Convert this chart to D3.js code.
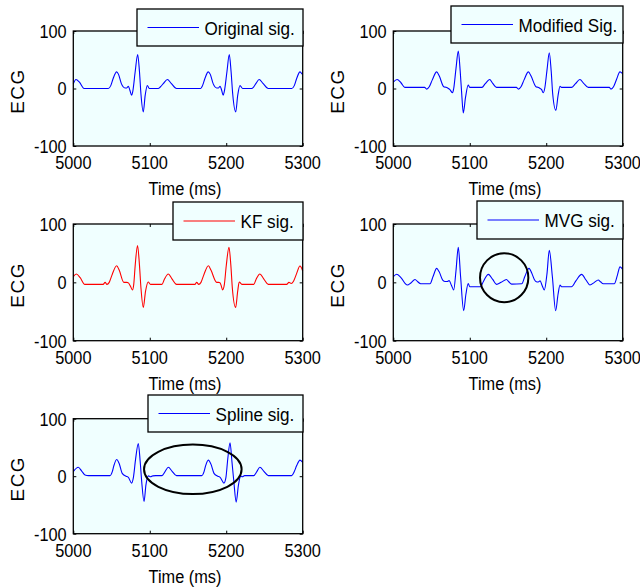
<!DOCTYPE html>
<html><head><meta charset="utf-8">
<script src="https://cdn.jsdelivr.net/npm/d3@7"></script>
<style>
body{margin:0;background:#fff}
text{font-family:"Liberation Sans",Arial,Helvetica,sans-serif;fill:#000}
</style>
</head><body>
<svg id="c" width="640" height="588"></svg>
<script>
// ---------- data ----------
const xTicks = [5000, 5100, 5200, 5300];
const yTicks = [-100, 0, 100];
const xLabel = "Time (ms)";
const yLabel = "ECG";
const seriesNames = ["Original sig.", "Modified Sig.", "KF sig.", "MVG sig.", "Spline sig."];
const seriesColors = ["#0000ff", "#0000ff", "#ff0000", "#0000ff", "#0000ff"];

const originalSig = [[5000,8],[5003.5,15.6],[5008,11],[5014,0],[5045.8,0],[5049,5],[5052,17],[5056.7,29],[5059,25],[5063,8],[5067.6,1],[5070,1],[5072,4],[5074,-3],[5076.3,-11.7],[5077.8,-5],[5081,30],[5084.2,59],[5086.5,30],[5088.5,-10],[5091.5,-40.7],[5094,-12],[5096.8,5],[5099.4,0],[5111,0],[5114,3],[5118,9],[5123,15.6],[5128,9],[5135,0],[5166.6,0],[5169,5],[5172,17],[5176.5,29],[5179,25],[5183,8],[5187.5,1],[5190,1],[5192,4],[5194,-3],[5196,-11.7],[5197.5,-5],[5201,30],[5204,59],[5206.3,30],[5208.5,-10],[5212.4,-40.7],[5215,-12],[5218,5],[5221.5,0],[5233,0],[5236,3],[5239,9],[5243,15.6],[5248,9],[5255,0],[5285.6,0],[5289,5],[5292,17],[5296.5,29],[5298,27],[5300,24]];

const modifiedSig = [[5000,11],[5005,15.6],[5010,10],[5015,2],[5041,2],[5043.6,-1],[5047,3],[5051,15],[5056.7,29],[5060,22],[5066,3],[5069,2],[5072,0],[5074,-2],[5077.5,-7.5],[5079,0],[5082,35],[5085,65],[5087.5,30],[5089.5,-10],[5091.5,-42.5],[5094.5,-15],[5098,6],[5100,2],[5116,2],[5120,8],[5126,15.6],[5130,9],[5135,2],[5161,2],[5163.6,-1],[5167,3],[5171,15],[5176.7,29],[5180,22],[5186.6,3],[5189,2],[5192,0],[5194,-2],[5196,-7.5],[5198,0],[5201,32],[5204,62],[5206.5,30],[5208.5,-10],[5212.6,-38],[5215.5,-12],[5218,4],[5220,2],[5233,2],[5238,8],[5244,15.6],[5249,9],[5255,2],[5282.5,2],[5284.6,-1],[5288,3],[5292,16],[5296.4,29],[5298,28],[5300,25]];

const kfSig = [[5000,9.7],[5004,14.3],[5009,8],[5015,-3.4],[5039,-3.4],[5041.6,0],[5044,-3.4],[5047,0],[5051,14],[5056.7,28.5],[5060,21],[5066,0],[5070,0],[5072,-1],[5074.5,-6],[5077.5,-13],[5079,-4],[5081,30],[5084,63],[5086.5,30],[5088.5,-10],[5091.5,-43],[5094.5,-15],[5098,0.5],[5101,-3.4],[5116,-3.4],[5119,5],[5124.3,14.3],[5129,6],[5135,-3.4],[5159,-3.4],[5161.4,0],[5164,-3.4],[5167,0],[5171,14],[5176.7,28.5],[5180,21],[5187.5,0],[5190,0],[5192,-1],[5193.5,-6],[5195.3,-13],[5197.5,-4],[5200,28],[5203.6,60],[5206,30],[5208,-10],[5212.3,-43],[5215,-15],[5217,0.5],[5220.5,-3.4],[5236,-3.4],[5239,5],[5244,14.3],[5249,6],[5255,-3.4],[5279,-3.4],[5282,0],[5285,-2],[5288,2],[5292,15],[5296.4,28],[5298,26],[5300,19.5]];

const mvgSig = [[5000,9.6],[5004.4,14],[5010,8],[5018.3,-4.6],[5023,-1],[5028.4,5],[5032,1],[5035.8,-2.4],[5048,-2.4],[5052,10],[5056.7,24],[5060,18],[5064.6,4],[5068,1.5],[5070.7,1.5],[5073,3],[5076,-5],[5079,-13],[5082,20],[5085,60],[5088,10],[5092,-48.5],[5095,-20],[5098,-2],[5100,-7.5],[5114,-7.5],[5118,2],[5124.3,13.7],[5130,5],[5135,-3.4],[5141,0],[5148,5],[5151,1],[5154.8,-3],[5168,-2.5],[5172,10],[5177.5,24],[5181,16],[5184.4,5],[5187,1],[5189.6,0.5],[5192,2.5],[5194.5,-5],[5197.5,-13],[5201,15],[5204,55],[5208,10],[5212.3,-48.5],[5215.5,-20],[5218,-4.6],[5220,-7.5],[5233,-7.5],[5239,3],[5246.3,13.7],[5252,4],[5257.2,-4.6],[5263,0],[5268,4],[5271,1],[5274.6,-2.4],[5289,-2.4],[5293,12],[5296.5,26.6],[5300,22]];

const splineSig = [[5000,8],[5006.5,15.5],[5011,9],[5015.3,2],[5020,1],[5048,1],[5051,8],[5053,18],[5056.7,29],[5060,22],[5064,5],[5069,0],[5072,-2],[5076.3,-12],[5078.5,-3],[5081.5,30],[5085,57],[5087.5,25],[5089.5,-10],[5092.5,-44],[5095,-15],[5098.5,0.5],[5101,-1],[5104,0.5],[5108,1],[5116,1],[5120,8],[5124.3,15.5],[5129,9],[5135,1],[5168,1],[5171,8],[5173,18],[5176.6,28],[5180,21],[5184,5],[5189,0],[5192,-2],[5197,-12],[5199.5,-3],[5202,30],[5205,58],[5207.5,25],[5210,-10],[5213,-45],[5216,-15],[5219,0.5],[5221,-1],[5224,1],[5236,1],[5240,8],[5244,15.5],[5249,9],[5255,1],[5285.6,1],[5289,8],[5292,18],[5296.5,28],[5300,24]];

const seriesData = [originalSig, modifiedSig, kfSig, mvgSig, splineSig];

// annotation ellipses (data units): panel, centre time, centre value, half-width ms, half-height value
const annotPanels = [3, 4];
const annotCenters = [[5145, 8], [5156.3, 12]];
const annotRadii = [[31.6, 42], [63.8, 43]];

// ---------- layout ----------
const layout = [
  {x0:73.3, x1:302.7, y0:31,    y1:146,   leg:[137,9,303,46]},
  {x0:393.3,x1:622.7, y0:31,    y1:146,   leg:[451,6,623,43]},
  {x0:73.3, x1:302.7, y0:224,   y1:340.7, leg:[173,202,303,240]},
  {x0:393.3,x1:622.7, y0:224,   y1:340.7, leg:[477,201,623,239]},
  {x0:73.3, x1:302.7, y0:418.7, y1:533.7, leg:[148,395,303,432]}
];
const FS = 19, SX = 0.86, LSX = 0.9;
const bg = "#f0ffff";

const svg = d3.select("#c");

function sText(g, x, y, txt, anchor, sx) {
  return g.append("text")
    .attr("transform", `translate(${x},${y}) scale(${sx},1)`)
    .attr("text-anchor", anchor)
    .style("font-size", FS + "px")
    .text(txt);
}

layout.forEach((L, i) => {
  const g = svg.append("g");
  const x = d3.scaleLinear().domain([xTicks[0], xTicks[xTicks.length-1]]).range([L.x0, L.x1]);
  const y = d3.scaleLinear().domain([yTicks[0], yTicks[yTicks.length-1]]).range([L.y1, L.y0]);

  g.append("rect").attr("x", L.x0).attr("y", L.y0).attr("width", L.x1 - L.x0).attr("height", L.y1 - L.y0)
    .attr("fill", bg);

  // ticks (inside, all four sides)
  const axB = g.append("g").attr("transform", `translate(0,${L.y1})`)
    .call(d3.axisBottom(x).tickValues(xTicks).tickSizeInner(-3).tickSizeOuter(0).tickFormat(""));
  const axT = g.append("g").attr("transform", `translate(0,${L.y0})`)
    .call(d3.axisTop(x).tickValues(xTicks).tickSizeInner(-3).tickSizeOuter(0).tickFormat(""));
  const axL = g.append("g").attr("transform", `translate(${L.x0},0)`)
    .call(d3.axisLeft(y).tickValues(yTicks).tickSizeInner(-3).tickSizeOuter(0).tickFormat(""));
  const axR = g.append("g").attr("transform", `translate(${L.x1},0)`)
    .call(d3.axisRight(y).tickValues(yTicks).tickSizeInner(-3).tickSizeOuter(0).tickFormat(""));
  [axB, axT, axL, axR].forEach(a => { a.select(".domain").remove(); a.selectAll("line").attr("stroke", "#000"); });

  // tick labels
  xTicks.forEach(t => sText(g, x(t), L.y1 + 23, String(t), "middle", SX));
  yTicks.forEach(v => sText(g, L.x0 - 6.6, y(v) + 6.8, String(v), "end", SX));

  // line
  const line = d3.line().x(d => x(d[0])).y(d => y(d[1])).curve(d3.curveMonotoneX);
  g.append("path").datum(seriesData[i]).attr("d", line)
    .attr("fill", "none").attr("stroke", seriesColors[i]).attr("stroke-width", 1.1);

  // box
  g.append("rect").attr("x", L.x0).attr("y", L.y0).attr("width", L.x1 - L.x0).attr("height", L.y1 - L.y0)
    .attr("fill", "none").attr("stroke", "#000").attr("stroke-width", 1.3);

  // axis labels
  sText(g, (L.x0 + L.x1) / 2 - 3, L.y1 + 49, xLabel, "middle", SX);
  g.append("text")
    .attr("transform", `translate(${L.x0 - 49.3},${(L.y0 + L.y1) / 2 + 2.5}) rotate(-90)`)
    .attr("text-anchor", "middle").style("font-size", FS + "px")
    .attr("letter-spacing", "1.5px")
    .text(yLabel);

  // annotations
  annotPanels.forEach((p, k) => {
    if (p !== i) return;
    const c = annotCenters[k], r = annotRadii[k];
    g.append("ellipse")
      .attr("cx", x(c[0])).attr("cy", y(c[1]))
      .attr("rx", x(c[0] + r[0]) - x(c[0])).attr("ry", y(c[1]) - y(c[1] + r[1]))
      .attr("fill", "none").attr("stroke", "#000").attr("stroke-width", 2);
  });

  // legend
  const [lx0, ly0, lx1, ly1] = L.leg;
  g.append("rect").attr("x", lx0).attr("y", ly0).attr("width", lx1 - lx0).attr("height", ly1 - ly0)
    .attr("fill", bg).attr("stroke", "#000").attr("stroke-width", 1.3);
  const lyc = (ly0 + ly1) / 2;
  g.append("line").attr("x1", lx0 + 10.5).attr("x2", lx0 + 62).attr("y1", lyc).attr("y2", lyc)
    .attr("stroke", seriesColors[i]).attr("stroke-width", 1.1);
  sText(g, lx0 + 67.5, lyc + 7, seriesNames[i], "start", LSX);
});
</script>
</body></html>
